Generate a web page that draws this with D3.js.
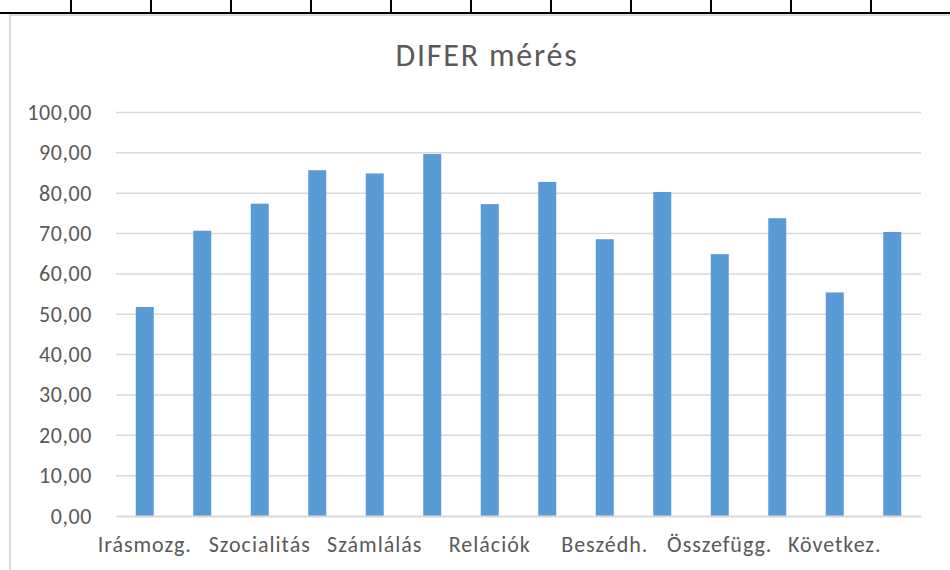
<!DOCTYPE html>
<html>
<head>
<meta charset="utf-8">
<script src="https://cdn.jsdelivr.net/npm/d3@7"></script>
<style>
  body { margin: 0; background: #fff; }
  svg { display: block; font-family: Carlito, Calibri, Lato, sans-serif; }
</style>
</head>
<body>
<svg width="950" height="570"></svg>
<script>
// two bars per subtest (first / second measurement), Excel shows every 2nd label
var categories = ["Irásmozg.", "Irásmozg.", "Szocialitás", "Szocialitás", "Számlálás", "Számlálás",
                  "Relációk", "Relációk", "Beszédh.", "Beszédh.", "Összefügg.", "Összefügg.",
                  "Következ.", "Következ."];
var values = [51.8, 70.7, 77.4, 85.7, 84.9, 89.7, 77.3, 82.8, 68.6, 80.3, 64.9, 73.8, 55.4, 70.4];
var yTicks = [0, 10, 20, 30, 40, 50, 60, 70, 80, 90, 100];
var sheetCols = [71, 151, 231, 311, 391, 471, 551, 631, 711, 791, 871];

var svg = d3.select("svg"),
    margin = {top: 112.5, right: 29, bottom: 54, left: 116},
    width = +svg.attr("width") - margin.left - margin.right,
    height = +svg.attr("height") - margin.top - margin.bottom;

/* spreadsheet grid peeking above the chart */
svg.selectAll(".col")
  .data(sheetCols)
  .enter().append("line")
    .attr("x1", function(d) { return d; })
    .attr("x2", function(d) { return d; })
    .attr("y1", 0)
    .attr("y2", 13)
    .attr("stroke", "#000")
    .attr("stroke-width", 2);

svg.append("line")
    .attr("x1", 0).attr("x2", 950)
    .attr("y1", 13).attr("y2", 13)
    .attr("stroke", "#000")
    .attr("stroke-width", 2);

// chart frame
svg.append("path")
    .attr("d", "M10,570V15H950")
    .attr("fill", "none")
    .attr("stroke", "#d9d9d9")
    .attr("stroke-width", 2);

svg.append("text")
    .attr("x", 487)
    .attr("y", 66)
    .attr("text-anchor", "middle")
    .attr("fill", "#595959")
    .attr("font-size", 32)
    .attr("letter-spacing", 1.8)
    .text("DIFER mérés");

var g = svg.append("g").attr("transform", "translate(" + margin.left + "," + margin.top + ")");

var x = d3.scaleBand()
    .domain(d3.range(categories.length))
    .range([0, width])
    .paddingInner(0.687)
    .paddingOuter(0.3435);

var y = d3.scaleLinear()
    .domain([0, 100])
    .range([height, 0]);

var fmt = function(d) { return d3.format(".2f")(d).replace(".", ","); };

// gridlines
g.append("g")
  .selectAll("line")
  .data(yTicks.slice(1))
  .enter().append("line")
    .attr("x1", 0)
    .attr("x2", width)
    .attr("y1", function(d) { return y(d); })
    .attr("y2", function(d) { return y(d); })
    .attr("stroke", "#d9d9d9")
    .attr("stroke-width", 1.5);

var yAxis = g.append("g")
    .call(d3.axisLeft(y).tickValues(yTicks).tickFormat(fmt).tickSize(0).tickPadding(24));
yAxis.select(".domain").remove();
yAxis.selectAll("text")
    .attr("fill", "#595959")
    .attr("font-size", 22)
    .attr("letter-spacing", 0.6)
    .attr("font-family", "Carlito, Calibri, Lato, sans-serif");

g.append("g")
  .selectAll("rect")
  .data(values)
  .enter().append("rect")
    .attr("x", function(d, i) { return x(i); })
    .attr("y", function(d) { return y(d); })
    .attr("width", x.bandwidth())
    .attr("height", function(d) { return height - y(d); })
    .attr("fill", "#5b9bd5");

var xAxis = g.append("g")
    .attr("transform", "translate(0," + height + ")")
    .call(d3.axisBottom(x)
      .tickValues(d3.range(0, categories.length, 2))
      .tickFormat(function(i) { return categories[i]; })
      .tickSize(0)
      .tickPadding(20));
xAxis.select(".domain")
    .attr("stroke", "#d9d9d9")
    .attr("stroke-width", 2);
xAxis.selectAll("text")
    .attr("fill", "#595959")
    .attr("font-size", 22)
    .attr("letter-spacing", 1)
    .attr("font-family", "Carlito, Calibri, Lato, sans-serif");
</script>
</body>
</html>
